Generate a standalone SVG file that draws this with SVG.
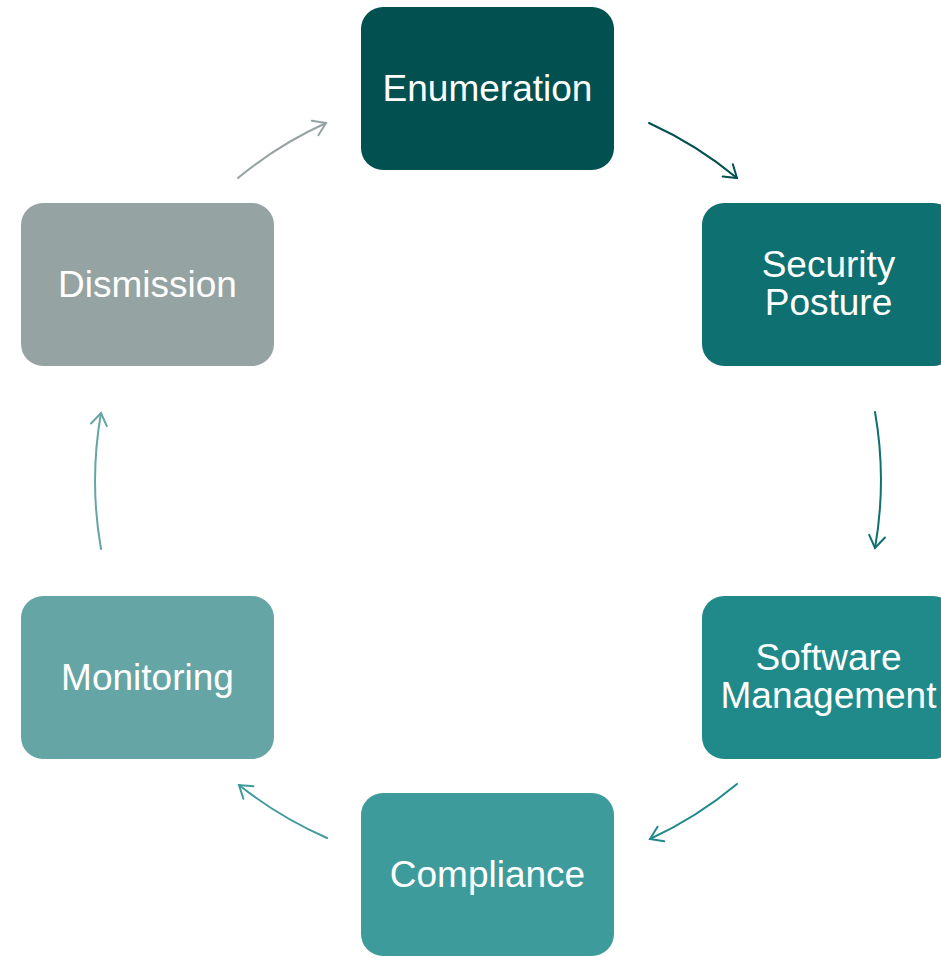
<svg xmlns="http://www.w3.org/2000/svg" width="941" height="958" viewBox="0 0 941 958">
<style>
.box{stroke:none}
.lbl{font-family:"Liberation Sans",Arial,sans-serif;font-size:37px;fill:#ffffff;text-anchor:middle}
.arr{fill:none;stroke-width:2;stroke-linecap:round}
</style>
<defs>
<marker id="m1" markerWidth="20" markerHeight="20" refX="0" refY="0" viewBox="-14 -10 16 20" orient="auto" markerUnits="userSpaceOnUse"><path d="M-12,-8 L0,0 L-12,8" fill="none" stroke="#95A3A2" stroke-width="2" stroke-linecap="round"/></marker>
<marker id="m2" markerWidth="20" markerHeight="20" refX="0" refY="0" viewBox="-14 -10 16 20" orient="auto" markerUnits="userSpaceOnUse"><path d="M-12,-8 L0,0 L-12,8" fill="none" stroke="#02504F" stroke-width="2" stroke-linecap="round"/></marker>
<marker id="m3" markerWidth="20" markerHeight="20" refX="0" refY="0" viewBox="-14 -10 16 20" orient="auto" markerUnits="userSpaceOnUse"><path d="M-12,-8 L0,0 L-12,8" fill="none" stroke="#0E7070" stroke-width="2" stroke-linecap="round"/></marker>
<marker id="m4" markerWidth="20" markerHeight="20" refX="0" refY="0" viewBox="-14 -10 16 20" orient="auto" markerUnits="userSpaceOnUse"><path d="M-12,-8 L0,0 L-12,8" fill="none" stroke="#1F8A89" stroke-width="2" stroke-linecap="round"/></marker>
<marker id="m5" markerWidth="20" markerHeight="20" refX="0" refY="0" viewBox="-14 -10 16 20" orient="auto" markerUnits="userSpaceOnUse"><path d="M-12,-8 L0,0 L-12,8" fill="none" stroke="#3E9B9C" stroke-width="2" stroke-linecap="round"/></marker>
<marker id="m6" markerWidth="20" markerHeight="20" refX="0" refY="0" viewBox="-14 -10 16 20" orient="auto" markerUnits="userSpaceOnUse"><path d="M-12,-8 L0,0 L-12,8" fill="none" stroke="#66A5A5" stroke-width="2" stroke-linecap="round"/></marker>
</defs>
<rect width="941" height="958" fill="#ffffff"/>
<g id="connectors">
<path class="arr" stroke="#95A3A2" d="M238,178 A393,393 0 0 1 326,123" marker-end="url(#m1)"/>
<path class="arr" stroke="#02504F" d="M649,123 A393,393 0 0 1 737,178" marker-end="url(#m2)"/>
<path class="arr" stroke="#0E7070" d="M875,412 A393,393 0 0 1 875,548" marker-end="url(#m3)"/>
<path class="arr" stroke="#1F8A89" d="M737,784 A393,393 0 0 1 650,839" marker-end="url(#m4)"/>
<path class="arr" stroke="#3E9B9C" d="M327,838 A393,393 0 0 1 239,785" marker-end="url(#m5)"/>
<path class="arr" stroke="#66A5A5" d="M101,549 A393,393 0 0 1 101,413" marker-end="url(#m6)"/>
</g>
<g id="enumeration">
<rect class="box" x="361" y="7" width="253" height="163" rx="22" fill="#02504F"/>
<text class="lbl" x="487.5" y="101">Enumeration</text>
</g>
<g id="security-posture">
<rect class="box" x="702" y="203" width="253" height="163" rx="22" fill="#0E7070"/>
<text class="lbl" x="828.5" y="277">Security</text>
<text class="lbl" x="828.5" y="315">Posture</text>
</g>
<g id="software-management">
<rect class="box" x="702" y="596" width="253" height="163" rx="22" fill="#1F8A89"/>
<text class="lbl" x="828.5" y="670">Software</text>
<text class="lbl" x="828.5" y="708">Management</text>
</g>
<g id="compliance">
<rect class="box" x="361" y="793" width="253" height="163" rx="22" fill="#3E9B9C"/>
<text class="lbl" x="487.5" y="887">Compliance</text>
</g>
<g id="monitoring">
<rect class="box" x="21" y="596" width="253" height="163" rx="22" fill="#66A5A5"/>
<text class="lbl" x="147.5" y="690">Monitoring</text>
</g>
<g id="dismission">
<rect class="box" x="21" y="203" width="253" height="163" rx="22" fill="#95A3A2"/>
<text class="lbl" x="147.5" y="297">Dismission</text>
</g>
</svg>
